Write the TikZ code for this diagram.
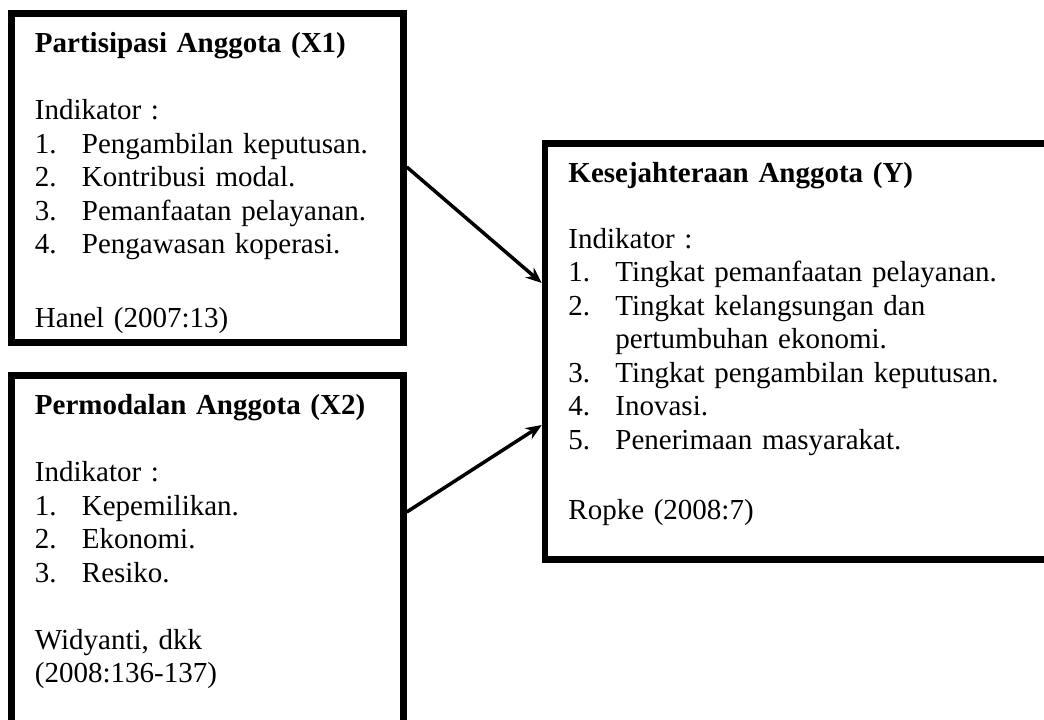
\documentclass[tikz,border=0pt]{standalone}
\usepackage{fontspec}
\setmainfont{Liberation Serif}
\usetikzlibrary{arrows.meta}

\tikzset{
  kotak/.style={draw, line width=6.5pt, inner sep=0pt},
  isi/.style={anchor=base west, align=left, inner sep=0pt, text width=480pt,
    font=\fontsize{29}{33.5}\selectfont},
  panah/.style={-{Stealth[length=16pt,width=13pt]}, line width=3.5pt},
}
\newcommand{\nomor}[1]{\makebox[47pt][l]{#1}}

\begin{document}
\begin{tikzpicture}[x=1pt,y=-1pt]
    \useasboundingbox (0,0) rectangle (1044,720);
    \clip (0,0) rectangle (1044,720);
    \fill[white] (0,0) rectangle (1044,720);

    \node[kotak, minimum width=392pt, minimum height=329pt] (partisipasi) at (207.5,178) {};
    \node[kotak, minimum width=392pt, minimum height=384.5pt] (permodalan) at (207.5,567.75) {};
    \node[kotak, minimum width=540pt, minimum height=416pt] (kesejahteraan) at (815,351.5) {};

    \node[isi] (teksx1) at ([shift={(26.5,42.5)}]partisipasi.north west) {%
      \textbf{Partisipasi Anggota (X1)}\\[33.5pt]
      Indikator :\\
      \nomor{1.}Pengambilan keputusan.\\
      \nomor{2.}Kontribusi modal.\\
      \nomor{3.}Pemanfaatan pelayanan.\\
      \nomor{4.}Pengawasan koperasi.\\[40.5pt]
      Hanel (2007:13)};

    \node[isi] (teksx2) at ([shift={(26.5,42.5)}]permodalan.north west) {%
      \textbf{Permodalan Anggota (X2)}\\[33.5pt]
      Indikator :\\
      \nomor{1.}Kepemilikan.\\
      \nomor{2.}Ekonomi.\\
      \nomor{3.}Resiko.\\[33.5pt]
      Widyanti, dkk\\
      (2008:136-137)};

    \node[isi] (teksy) at ([shift={(26.5,42)}]kesejahteraan.north west) {%
      \textbf{Kesejahteraan Anggota (Y)}\\[32.5pt]
      Indikator :\\
      \nomor{1.}Tingkat pemanfaatan pelayanan.\\
      \nomor{2.}Tingkat kelangsungan dan\\
      \hspace*{47pt}pertumbuhan ekonomi.\\
      \nomor{3.}Tingkat pengambilan keputusan.\\
      \nomor{4.}Inovasi.\\
      \nomor{5.}Penerimaan masyarakat.\\[36.5pt]
      Ropke (2008:7)};

    \draw[panah] ([yshift=11pt]partisipasi.east) -- ([yshift=68.5pt]kesejahteraan.west);
    \draw[panah] ([yshift=55.75pt]permodalan.east) -- ([yshift=-73.5pt]kesejahteraan.west);
\end{tikzpicture}
\end{document}
